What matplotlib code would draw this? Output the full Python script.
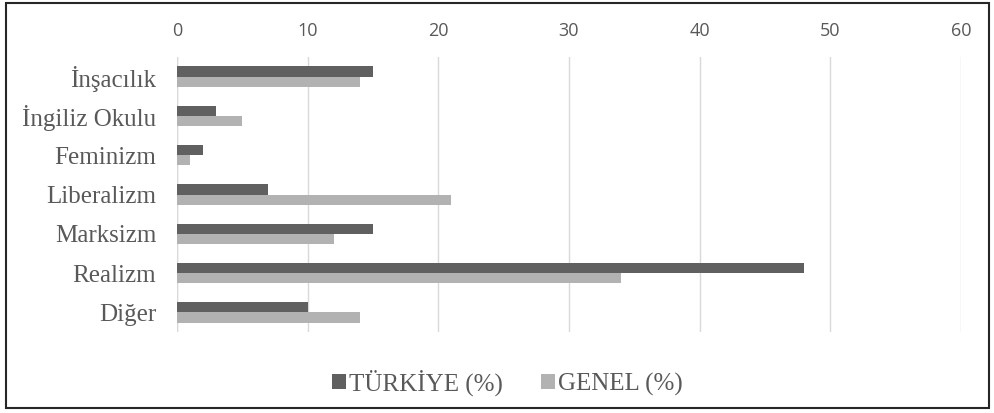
import matplotlib
matplotlib.use("Agg")
import matplotlib.pyplot as plt
from matplotlib.patches import Rectangle
import numpy as np

categories = ["İnşacılık", "İngiliz Okulu", "Feminizm", "Liberalizm", "Marksizm", "Realizm", "Diğer"]
turkiye = [15, 3, 2, 7, 15, 48, 10]
genel = [14, 5, 1, 21, 12, 34, 14]
xticks = [0, 10, 20, 30, 40, 50, 60]
series_names = ["TÜRKİYE (%)", "GENEL (%)"]

fig = plt.figure(figsize=(9.95, 4.13), dpi=100)
ax = fig.add_axes([0.1779, 0.196, 0.7879, 0.666])

y = np.arange(len(categories))
h = 0.26
ax.barh(y - h/2, turkiye, height=h, color="#606060", label=series_names[0], zorder=3)
ax.barh(y + h/2, genel, height=h, color="#b2b2b2", label=series_names[1], zorder=3)

ax.set_ylim(len(categories) - 0.5, -0.5)
ax.set_xlim(0, 60)
ax.set_xticks(xticks)
ax.xaxis.tick_top()
ax.tick_params(axis="x", length=0, pad=12.5, labelsize=13, labelcolor="#595959")
for lab in ax.get_xticklabels():
    lab.set_family("Open Sans")
ax.set_yticks(y)
ax.set_yticklabels(categories, family="Liberation Serif", fontsize=18, color="#595959")
ax.tick_params(axis="y", length=0, pad=15)
ax.grid(axis="x", color="#d9d9d9", linewidth=1, zorder=0)
for s in ax.spines.values():
    s.set_visible(False)
ax.axvline(0, color="#d9d9d9", linewidth=1, zorder=0)

fig.legend(loc="center", bbox_to_anchor=(0.51, 0.073), ncol=2, frameon=False,
           prop={"family": "Liberation Serif", "size": 18},
           handlelength=0.55, handleheight=0.55, handletextpad=0.15, columnspacing=1.5,
           labelcolor="#595959")

fig.add_artist(Rectangle((0.006, 0.012), 0.988, 0.981, transform=fig.transFigure,
                         fill=False, edgecolor="#262626", linewidth=1.5))

fig.savefig("out.png", dpi=100, facecolor="white")
